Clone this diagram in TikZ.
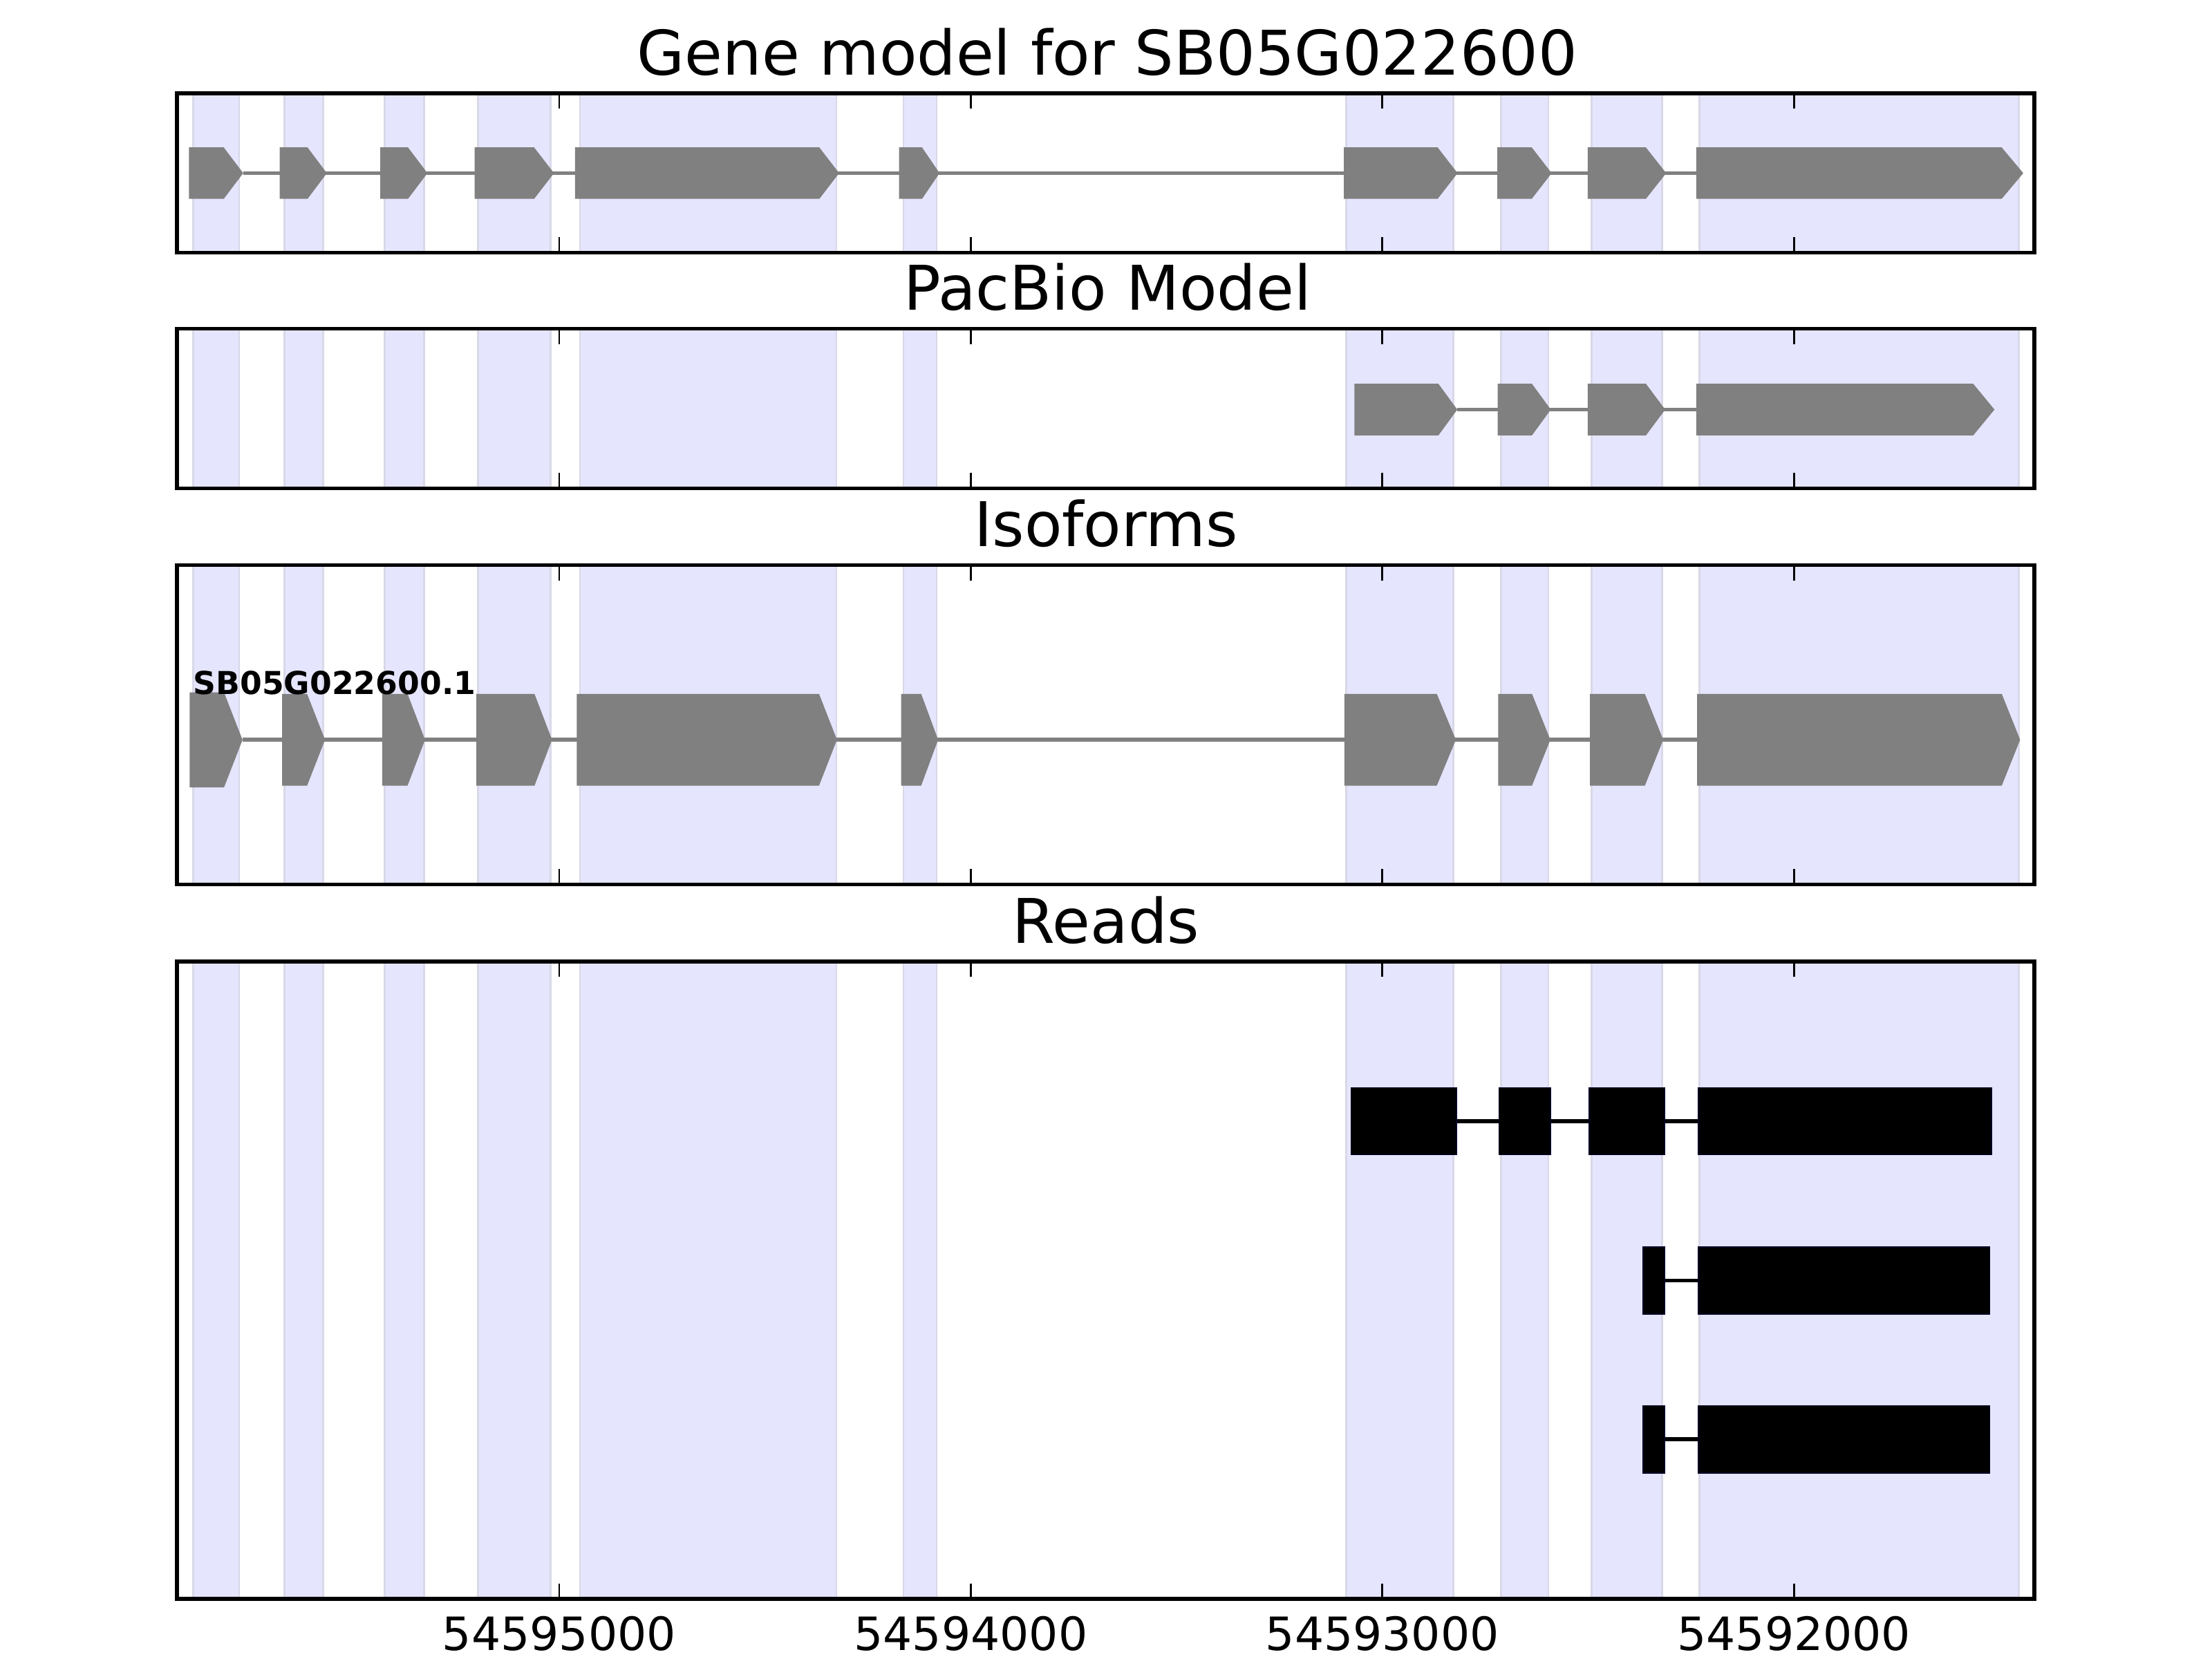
\documentclass[tikz,border=0pt]{standalone}
\usepackage{fontspec}
\setmainfont{DejaVu Sans}
\definecolor{bandfill}{RGB}{229,229,254}
\definecolor{bandedge}{RGB}{216,216,232}
\definecolor{glyphgray}{RGB}{128,128,128}
\newcommand\mybands[2]{%
  \foreach \ba/\bb in {137/169.5, 201.8/228.9, 272.7/300.8, 338.9/390.2, 411.1/592.9, 640.4/663.9, 954.4/1030.1, 1064.2/1097.6, 1128.3/1178.2, 1204.8/1431}
    {\draw[band] (\ba,#1) rectangle (\bb,#2);}%
}
\newcommand\myexon[5]{%
  \fill[glyphgray] (#1,#4) -- (#2,#4) -- (#3,{(#4+#5)/2}) -- (#2,#5) -- (#1,#5) -- cycle;%
}
\newcommand\myframe[2]{%
  \draw[frame] (125.5,#1) rectangle (1442,#2);
  \foreach \tx in {396.4,688.2,979.9,1271.7}
    {\draw[tickmark] (\tx,#1) -- ++(0,11); \draw[tickmark] (\tx,#2) -- ++(0,-11);}%
}
\begin{document}
\begin{tikzpicture}[x=0.36873pt,y=-0.36873pt,
  band/.style={fill=bandfill,draw=bandedge,line width=0.5pt},
  frame/.style={draw=black,line width=1pt},
  tickmark/.style={draw=black,line width=0.5pt},
  intron/.style={draw=glyphgray,line width=1pt},
  readintron/.style={draw=black,line width=1pt},
  readbox/.style={fill=black,draw=black!85!blue,line width=0.3pt},
  titletext/.style={inner sep=0pt,anchor=base,font=\fontsize{16.1}{19}\selectfont},
  ticktext/.style={inner sep=0pt,anchor=base,font=\fontsize{12}{14}\selectfont},
  isotext/.style={inner sep=0pt,anchor=base west,font=\fontsize{8.25}{10}\selectfont\bfseries}]
\useasboundingbox[fill=white] (0,0) rectangle (1568,1176);

% ---------- Panel 1: gene model ----------
\mybands{66.1}{179.2}
\draw[intron] (172.4,122.75) -- (1202.4,122.75);
\myexon{134}{158.6}{172.4}{104.5}{141}
\myexon{198.3}{218}{231.7}{104.5}{141}
\myexon{269.6}{289.2}{303}{104.5}{141}
\myexon{336.4}{378.6}{392.7}{104.5}{141}
\myexon{407.6}{580.8}{594.8}{104.5}{141}
\myexon{637.3}{653.6}{666}{104.5}{141}
\myexon{952.6}{1019.1}{1033.2}{104.5}{141}
\myexon{1061.4}{1085.8}{1099.9}{104.5}{141}
\myexon{1125.4}{1166.7}{1181.1}{104.5}{141}
\myexon{1202.4}{1418.9}{1434.2}{104.5}{141}
\myframe{66.1}{179.2}
\node[titletext] (t1) at (785,53) {Gene model for SB05G022600};

% ---------- Panel 2: PacBio ----------
\mybands{233}{346.2}
\draw[intron] (1033,290.35) -- (1202.4,290.35);
\myexon{960.1}{1019.6}{1033}{272}{308.7}
\myexon{1061.6}{1085.9}{1099.3}{272}{308.7}
\myexon{1125.4}{1166.7}{1180.4}{272}{308.7}
\myexon{1202.4}{1398.7}{1413.8}{272}{308.7}
\myframe{233}{346.2}
\node[titletext] (t2) at (785,220) {PacBio Model};

% ---------- Panel 3: isoforms ----------
\mybands{400.6}{627}
\draw[intron] (171.9,524.4) -- (1203,524.4);
\myexon{134.5}{158.8}{171.9}{490.8}{558.2}
\myexon{200}{217.7}{230.4}{491.9}{556.9}
\myexon{270.9}{288.9}{301.3}{491.9}{556.9}
\myexon{337.7}{378.9}{391.3}{491.9}{556.9}
\myexon{408.9}{580.6}{593.3}{491.9}{556.9}
\myexon{638.8}{653}{665}{491.9}{556.9}
\myexon{953}{1018.5}{1032}{491.9}{556.9}
\myexon{1062}{1086}{1099}{491.9}{556.9}
\myexon{1127}{1166}{1179}{491.9}{556.9}
\myexon{1203}{1419}{1432}{491.9}{556.9}
\node[isotext] (iso) at (136.5,492) {SB05G022600.1};
\myframe{400.6}{627}
\node[titletext] (t3) at (784,387.6) {Isoforms};

% ---------- Panel 4: reads ----------
\mybands{681.6}{1133.5}
\draw[readintron] (1032.3,794.7) -- (1203.8,794.7);
\draw[readbox] (957.7,771) rectangle (1032.3,818.5);
\draw[readbox] (1062.6,771) rectangle (1099,818.5);
\draw[readbox] (1126.4,771) rectangle (1179.8,818.5);
\draw[readbox] (1203.8,771) rectangle (1411.7,818.5);
\draw[readintron] (1179.8,907.7) -- (1203.8,907.7);
\draw[readbox] (1164.6,884) rectangle (1179.8,931.5);
\draw[readbox] (1203.8,884) rectangle (1410.4,931.5);
\draw[readintron] (1179.8,1020.3) -- (1203.8,1020.3);
\draw[readbox] (1164.6,996.5) rectangle (1179.8,1044.2);
\draw[readbox] (1203.8,996.5) rectangle (1410.4,1044.2);
\myframe{681.6}{1133.5}
\node[titletext] (t4) at (784,668.5) {Reads};

% ---------- x tick labels ----------
\node[ticktext] (l1) at (396.4,1170) {54595000};
\node[ticktext] (l2) at (688.2,1170) {54594000};
\node[ticktext] (l3) at (979.9,1170) {54593000};
\node[ticktext] (l4) at (1271.7,1170) {54592000};
\end{tikzpicture}
\end{document}
